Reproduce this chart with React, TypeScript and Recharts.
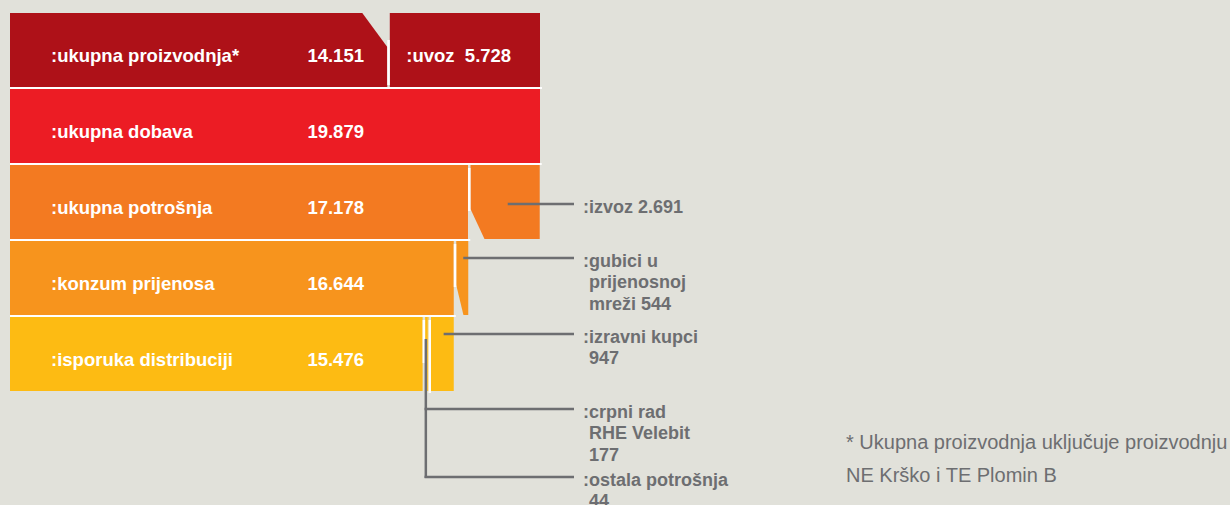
import { BarChart, Bar, XAxis, YAxis } from "recharts";

// Energy balance rows (GWh), top to bottom
const rowNames = [
  ":ukupna proizvodnja*",
  ":ukupna dobava",
  ":ukupna potrošnja",
  ":konzum prijenosa",
  ":isporuka distribuciji",
];
const mainValues = [14151, 19879, 17178, 16644, 15476];
// flows stacked after the main value: uvoz, -, izvoz, gubici, crpni rad RHE Velebit
const firstFlow = [5728, 0, 2691, 544, 177];
// ostala potrošnja
const secondFlow = [0, 0, 0, 0, 44];
// izravni kupci
const thirdFlow = [0, 0, 0, 0, 947];

const rowColors = ["#ae1118", "#ec1c24", "#f37a21", "#f7941d", "#fdbb13"];
const BG = "#e1e1da";
const GREY = "#6d6e71";
const FONT = '"Liberation Sans", Arial, Helvetica, sans-serif';
const SEP = 2.5;
const LABEL_X = 583;
const LEADER_END = 574;

const data = rowNames.map((name, i) => ({
  name,
  main: mainValues[i],
  first: firstFlow[i],
  second: secondFlow[i],
  third: thirdFlow[i],
}));

// 19879 -> "19.879"
function fmt(v: number): string {
  if (v < 1000) return String(v);
  return `${Math.floor(v / 1000)}.${String(v % 1000).padStart(3, "0")}`;
}

function rowOf(payload: any): number {
  return rowNames.indexOf(payload.name);
}

function Callout({ x1, y, lines }: { x1: number; y: number; lines: string[] }) {
  return (
    <g>
      <line x1={x1} y1={y} x2={LEADER_END} y2={y} stroke={GREY} strokeWidth={2.5} />
      <text fill={GREY} fontFamily={FONT} fontWeight={700} fontSize={18}>
        {lines.map((line, k) => (
          <tspan key={k} x={k === 0 ? LABEL_X : LABEL_X + 6} y={y + 8.5 + k * 21.5}>
            {line}
          </tspan>
        ))}
      </text>
    </g>
  );
}

const whiteText = {
  fill: "#fff",
  fontFamily: FONT,
  fontWeight: 700,
  fontSize: 18.5,
} as const;

function MainShape(props: any) {
  const { x, y, width, height, payload } = props;
  const row = rowOf(payload);
  const fill = rowColors[row];
  const right = x + width;
  const bottom = y + height;
  const total = payload.main + payload.first + payload.second + payload.third;
  const baseline = y + height / 2 + 12;
  return (
    <g>
      {row === 0 ? (
        <polygon
          points={`${x},${y} ${right - 25},${y} ${right},${y + 34} ${right},${bottom} ${x},${bottom}`}
          fill={fill}
        />
      ) : (
        <rect x={x} y={y} width={width} height={height} fill={fill} />
      )}
      {row > 0 && (
        <rect x={x} y={y - 2} width={(width * total) / payload.main + 2} height={2} fill="#fff" />
      )}
      <text x={x + 41} y={baseline} {...whiteText}>
        {payload.name}
      </text>
      <text x={x + 354} y={baseline} textAnchor="end" {...whiteText}>
        {fmt(payload.main)}
      </text>
    </g>
  );
}

function FirstShape(props: any) {
  const { x, y, width, height, payload } = props;
  if (!width || width <= 0) return <g />;
  const row = rowOf(payload);
  const fill = rowColors[row];
  const left = x + SEP;
  const right = x + width;
  const bottom = y + height;

  if (row === 0) {
    return (
      <g>
        <rect x={left} y={y} width={width - SEP} height={height} fill={fill} />
        <rect x={x} y={y + 27} width={SEP} height={height - 29} fill="#fff" />
        <text x={x + 19} y={y + height / 2 + 12} style={{ whiteSpace: "pre" }} {...whiteText}>
          {`:uvoz  ${fmt(payload.first)}`}
        </text>
      </g>
    );
  }

  // outgoing flow, lower-left corner cut away
  const slantTop = y + 44;
  const slantX = left + Math.min(14, (right - left) * 0.6);
  return (
    <g>
      <polygon
        points={`${left},${y} ${right},${y} ${right},${bottom} ${slantX},${bottom} ${left},${slantTop}`}
        fill={fill}
      />
      <rect x={x} y={y + 3} width={SEP} height={43} fill="#fff" />
      {row === 2 && (
        <Callout x1={right - 32} y={y + 39} lines={[`:izvoz ${fmt(payload.first)}`]} />
      )}
      {row === 3 && (
        <Callout
          x1={right - 5}
          y={y + 17}
          lines={[":gubici u", "prijenosnoj", `mreži ${fmt(payload.first)}`]}
        />
      )}
    </g>
  );
}

function SecondShape(props: any) {
  const { x, y, width, height, payload } = props;
  if (!width || width <= 0) return <g />;
  const row = rowOf(payload);
  const stemX = x - 1.5;
  return (
    <g>
      <rect x={x} y={y} width={width} height={height} fill={rowColors[row]} />
      <line x1={stemX} y1={y + 22} x2={stemX} y2={y + 161} stroke={GREY} strokeWidth={2.5} />
      <Callout
        x1={stemX - 1.25}
        y={y + 92}
        lines={[":crpni rad", "RHE Velebit", fmt(payload.first)]}
      />
      <Callout x1={stemX - 1.25} y={y + 160} lines={[":ostala potrošnja", fmt(payload.second)]} />
    </g>
  );
}

function ThirdShape(props: any) {
  const { x, y, width, height, payload } = props;
  if (!width || width <= 0) return <g />;
  const row = rowOf(payload);
  return (
    <g>
      <rect x={x + SEP} y={y} width={width - SEP} height={height} fill={rowColors[row]} />
      <rect x={x} y={y + 3} width={SEP} height={height - 1} fill="#fff" />
      <Callout
        x1={x + width * 0.6}
        y={y + 17}
        lines={[":izravni kupci", fmt(payload.third)]}
      />
    </g>
  );
}

export default function App() {
  return (
    <div
      style={{
        position: "absolute",
        left: 0,
        top: 0,
        width: 1230,
        height: 505,
        background: BG,
        overflow: "hidden",
      }}
    >
      <BarChart
        width={1230}
        height={505}
        data={data}
        layout="vertical"
        margin={{ top: 12, right: 690, bottom: 113, left: 10 }}
        barCategoryGap={1}
      >
        <XAxis type="number" domain={[0, "dataMax"]} hide />
        <YAxis type="category" dataKey="name" hide />
        <Bar dataKey="main" stackId="s" shape={MainShape} isAnimationActive={false} />
        <Bar dataKey="first" stackId="s" shape={FirstShape} isAnimationActive={false} />
        <Bar dataKey="second" stackId="s" shape={SecondShape} isAnimationActive={false} />
        <Bar dataKey="third" stackId="s" shape={ThirdShape} isAnimationActive={false} />
      </BarChart>
      <svg
        width={1230}
        height={505}
        style={{ position: "absolute", left: 0, top: 0, pointerEvents: "none" }}
      >
        <text x={846} y={449} fill={GREY} fontFamily={FONT} fontSize={20}>
          * Ukupna proizvodnja uključuje proizvodnju
        </text>
        <text x={846} y={482} fill={GREY} fontFamily={FONT} fontSize={20}>
          NE Krško i TE Plomin B
        </text>
      </svg>
    </div>
  );
}
